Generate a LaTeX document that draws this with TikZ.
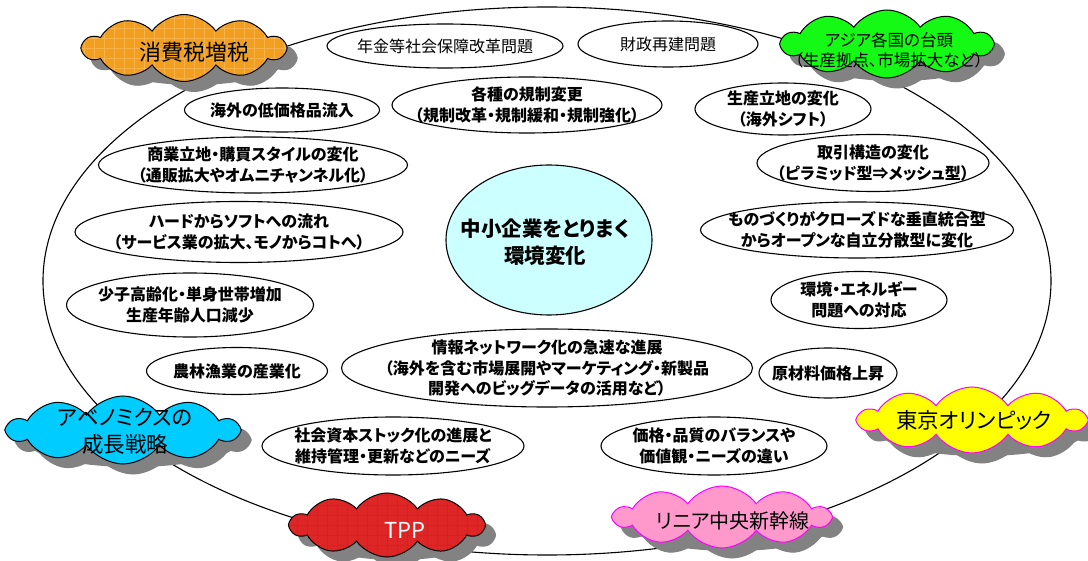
\documentclass[tikz,border=0pt]{standalone}
\usepackage{fontspec}
\setmainfont{Noto Sans CJK JP}[RawFeature=+palt]
\usetikzlibrary{shapes.geometric,shapes.symbols}
\definecolor{cOrange}{RGB}{242,158,30}
\definecolor{cOrangeGrid}{RGB}{247,178,75}
\definecolor{cGreen}{RGB}{20,250,20}
\definecolor{cCyan}{RGB}{0,204,255}
\definecolor{cYellow}{RGB}{255,255,0}
\definecolor{cMag}{RGB}{255,0,255}
\definecolor{cRed}{RGB}{222,38,38}
\definecolor{cRedGrid}{RGB}{245,20,20}
\definecolor{cPink}{RGB}{255,153,204}
\definecolor{cCenter}{RGB}{204,255,255}
\definecolor{shadowgray}{RGB}{130,130,130}
\begin{document}
\begin{tikzpicture}[x=1pt,y=-1pt,
  oval/.style={ellipse, draw=black, line width=1.1pt, fill=white, inner sep=0pt},
  etext/.style={font=\bfseries\fontsize{16}{20.5}\selectfont, align=center, inner sep=0pt},
  ntext/.style={font=\fontsize{16}{20.5}\selectfont, align=center, inner sep=0pt},
  ctext/.style={align=center, inner sep=0pt},
  cloudbase/.style={shape=cloud, cloud puffs=10, cloud puff arc=110, cloud ignores aspect, inner sep=0pt},
  cloudbox/.style={cloudbase, draw=black, line width=1pt},
  cloudshadow/.style={cloudbase, fill=shadowgray, draw=shadowgray, line width=1pt},
  gridfill/.style={path picture={\draw[#1, line width=0.4pt]
    ([xshift=-5pt,yshift=-5pt]path picture bounding box.south west) grid[step=10pt]
    ([xshift=5pt,yshift=5pt]path picture bounding box.north east);}},
]
\useasboundingbox[fill=white] (0,0) rectangle (1088,561);

% outer ellipse
\node[ellipse, draw=black, line width=1.1pt, minimum width=1008pt, minimum height=548pt] (big) at (547,281) {};

% ellipses
\node[oval, minimum width=236pt, minimum height=44pt] (e1) at (445,46) {};
\node[ntext] (t1) at (e1) {年金等社会保障改革問題};
\node[oval, minimum width=180pt, minimum height=46pt] (e2) at (668,44) {};
\node[ntext] (t2) at (e2) {財政再建問題};
\node[oval, minimum width=195pt, minimum height=44pt] (e3) at (282,110) {};
\node[etext] (t3) at (e3) {海外の低価格品流入};
\node[oval, minimum width=270pt, minimum height=56pt] (e4) at (527,105) {};
\node[etext] (t4) at (e4) {各種の規制変更\\（規制改革・規制緩和・規制強化）};
\node[oval, minimum width=176pt, minimum height=52pt] (e5) at (783,109) {};
\node[etext] (t5) at (e5) {生産立地の変化\\（海外シフト）};
\node[oval, minimum width=309pt, minimum height=56pt] (e6) at (253,165) {};
\node[etext] (t6) at (e6) {商業立地・購買スタイルの変化\\（通販拡大やオムニチャンネル化）};
\node[oval, minimum width=232pt, minimum height=57pt] (e7) at (873,163) {};
\node[etext] (t7) at (e7) {取引構造の変化\\（ピラミッド型⇒メッシュ型）};
\node[oval, fill=cCenter, minimum width=206pt, minimum height=150pt] (e8) at (549,240) {};
\node[ctext, font=\bfseries\fontsize{20.5}{27}\selectfont] (t8) at (545,242) {中小企業をとりまく\\環境変化};
\node[oval, minimum width=328pt, minimum height=61pt] (e9) at (239,232) {};
\node[etext] (t9) at (e9) {ハードからソフトへの流れ\\（サービス業の拡大、モノからコトへ）};
\node[oval, minimum width=313pt, minimum height=56pt] (e10) at (857,230) {};
\node[etext] (t10) at (e10) {ものづくりがクローズドな垂直統合型\\からオープンな自立分散型に変化};
\node[oval, minimum width=247pt, minimum height=64pt] (e11) at (190,305) {};
\node[etext] (t11) at (e11) {少子高齢化・単身世帯増加\\生産年齢人口減少};
\node[oval, minimum width=176pt, minimum height=57pt] (e12) at (859,300) {};
\node[etext] (t12) at (e12) {環境・エネルギー\\問題への対応};
\node[oval, minimum width=181pt, minimum height=47pt] (e13) at (237,371) {};
\node[etext] (t13) at (e13) {農林漁業の産業化};
\node[oval, minimum width=411pt, minimum height=78pt] (e14) at (547,368) {};
\node[etext] (t14) at (e14) {情報ネットワーク化の急速な進展\\（海外を含む市場展開やマーケティング・新製品\\開発へのビッグデータの活用など）};
\node[oval, minimum width=138pt, minimum height=50pt] (e15) at (828,373) {};
\node[etext] (t15) at (e15) {原材料価格上昇};
\node[oval, minimum width=262pt, minimum height=58pt] (e16) at (393,446) {};
\node[etext] (t16) at (e16) {社会資本ストック化の進展と\\維持管理・更新などのニーズ};
\node[oval, minimum width=226pt, minimum height=58pt] (e17) at (714,446) {};
\node[etext] (t17) at (e17) {価格・品質のバランスや\\価値観・ニーズの違い};

% cloud shadows (shifted copies, with a filled core)
\begin{scope}[transform canvas={shift={(10pt,-10pt)}}]
\node[cloudshadow, minimum width=202pt, minimum height=67pt] (s1) at (184,48) {};
\fill[shadowgray] (s1.center) ellipse [x radius=93, y radius=27];
\node[cloudshadow, minimum width=210pt, minimum height=68pt] (s2) at (887,44) {};
\fill[shadowgray] (s2.center) ellipse [x radius=97, y radius=27];
\node[cloudshadow, minimum width=230pt, minimum height=68pt] (s3) at (123,430) {};
\fill[shadowgray] (s3.center) ellipse [x radius=107, y radius=27];
\node[cloudshadow, minimum width=226pt, minimum height=66pt] (s4) at (972,420) {};
\fill[shadowgray] (s4.center) ellipse [x radius=105, y radius=26];
\node[cloudshadow, minimum width=193pt, minimum height=64pt] (s5) at (387,525) {};
\fill[shadowgray] (s5.center) ellipse [x radius=88, y radius=25];
\node[cloudshadow, minimum width=215pt, minimum height=62pt] (s6) at (722,517) {};
\fill[shadowgray] (s6.center) ellipse [x radius=99, y radius=24];
\end{scope}

% clouds
\node[cloudbox, fill=cOrange, gridfill=cOrangeGrid, minimum width=202pt, minimum height=67pt] (c1) at (184,48) {};
\node[ctext, font=\fontsize{22}{26}\selectfont] (u1) at (194,52) {消費税増税};

\node[cloudbox, fill=cGreen, minimum width=210pt, minimum height=68pt] (c2) at (887,44) {};
\node[ctext, font=\fontsize{16.5}{20}\selectfont] (u2) at (889,50) {アジア各国の台頭\\（生産拠点、市場拡大など）};

\node[cloudbox, fill=cCyan, minimum width=230pt, minimum height=68pt] (c3) at (123,430) {};
\node[ctext, font=\fontsize{21.5}{27}\selectfont] (u3) at (125,431) {アベノミクスの\\成長戦略};

\node[cloudbox, fill=cYellow, draw=cMag, minimum width=226pt, minimum height=66pt] (c4) at (972,420) {};
\node[ctext, font=\fontsize{21.5}{26}\selectfont] (u4) at (974,420) {東京オリンピック};

\node[cloudbox, fill=cRed, gridfill=cRedGrid, minimum width=193pt, minimum height=64pt] (c5) at (387,525) {};
\node[ctext, text=white, font=\fontsize{22}{26}\selectfont] (u5) at (405,530) {TPP};

\node[cloudbox, fill=cPink, draw=cMag, minimum width=215pt, minimum height=62pt] (c6) at (722,517) {};
\node[ctext, font=\fontsize{20}{25}\selectfont] (u6) at (733,521) {リニア中央新幹線};
\end{tikzpicture}
\end{document}
